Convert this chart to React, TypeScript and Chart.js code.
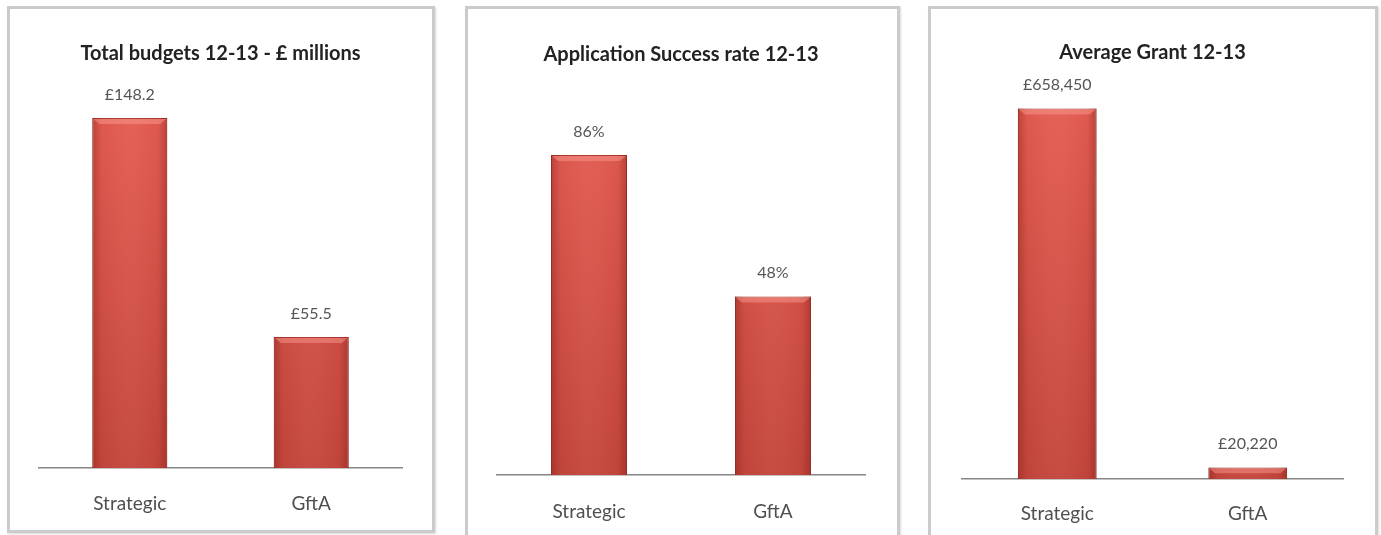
import React, { useEffect, useRef } from "react";
import { Chart, registerables } from "chart.js";

Chart.register(...registerables);

// ---------- DATA ----------
const categories = ["Strategic", "GftA"];
const budgetValues = [148.2, 55.5]; // £ millions
const successRateValues = [86, 48]; // %
const averageGrantValues = [658450, 20220]; // £
const chartTitles = [
  "Total budgets 12-13 - £ millions",
  "Application Success rate 12-13",
  "Average Grant 12-13",
];
const axisMaxima = [160, 100, 700000];

const formatMillions = (v: number) => "£" + v.toFixed(1);
const formatPercent = (v: number) => v + "%";
const formatPounds = (v: number) => "£" + v.toLocaleString("en-GB");

// ---------- LAYOUT / STYLE ----------
const FONT = "Lato, 'Open Sans', sans-serif";

type PanelCfg = {
  title: string;
  values: number[];
  max: number;
  format: (v: number) => string;
  left: number;
  top: number;
  width: number; // inner width
  height: number; // inner height
  padLeft: number;
  padRight: number;
  titlePadTop: number;
  titlePadBottom: number;
  tickPad: number;
  xAxisHeight: number;
};

const panels: PanelCfg[] = [
  {
    title: chartTitles[0],
    values: budgetValues,
    max: axisMaxima[0],
    format: formatMillions,
    left: 7,
    top: 6,
    width: 422,
    height: 521,
    padLeft: 29,
    padRight: 30,
    titlePadTop: 33,
    titlePadBottom: 24,
    tickPad: 24,
    xAxisHeight: 62,
  },
  {
    title: chartTitles[1],
    values: successRateValues,
    max: axisMaxima[1],
    format: formatPercent,
    left: 465,
    top: 6,
    width: 429,
    height: 530,
    padLeft: 29,
    padRight: 32,
    titlePadTop: 34,
    titlePadBottom: 36,
    tickPad: 25,
    xAxisHeight: 64,
  },
  {
    title: chartTitles[2],
    values: averageGrantValues,
    max: axisMaxima[2],
    format: formatPounds,
    left: 928,
    top: 6,
    width: 444,
    height: 530,
    padLeft: 31,
    padRight: 32,
    titlePadTop: 32,
    titlePadBottom: 20,
    tickPad: 23,
    xAxisHeight: 60,
  },
];

function makeValueLabelPlugin(format: (v: number) => string) {
  return {
    id: "valueLabels",
    afterDatasetsDraw(chart: any) {
      const ctx = chart.ctx;
      chart.data.datasets.forEach((ds: any, di: number) => {
        const meta = chart.getDatasetMeta(di);
        meta.data.forEach((el: any, i: number) => {
          const { x, y } = el.getProps(["x", "y"], true);
          ctx.save();
          ctx.font = `16px ${FONT}`;
          ctx.fillStyle = "#555555";
          ctx.textAlign = "center";
          ctx.textBaseline = "middle";
          ctx.fillText(format(ds.data[i]), x, y - 23.5);
          ctx.restore();
        });
      });
    },
  };
}

const barShadePlugin = {
  id: "barShade",
  afterDatasetsDraw(chart: any) {
    const ctx = chart.ctx;
    chart.data.datasets.forEach((_ds: any, di: number) => {
      const meta = chart.getDatasetMeta(di);
      meta.data.forEach((el: any) => {
        const { x, y, base, width } = el.getProps(["x", "y", "base", "width"], true);
        const l = x - width / 2;
        const r = x + width / 2;
        const h = base - y;
        ctx.save();
        // side shading
        const g = ctx.createLinearGradient(l, 0, r, 0);
        g.addColorStop(0, "rgba(110,20,15,0.35)");
        g.addColorStop(0.12, "rgba(110,20,15,0.05)");
        g.addColorStop(0.5, "rgba(255,255,255,0.03)");
        g.addColorStop(0.88, "rgba(110,20,15,0.05)");
        g.addColorStop(1, "rgba(110,20,15,0.35)");
        ctx.fillStyle = g;
        ctx.fillRect(l, y, width, h);
        // top bevel
        const bv = Math.min(6, h / 2);
        ctx.beginPath();
        ctx.moveTo(l + 1, y + 1);
        ctx.lineTo(r - 1, y + 1);
        ctx.lineTo(r - 1 - bv, y + bv);
        ctx.lineTo(l + 1 + bv, y + bv);
        ctx.closePath();
        ctx.fillStyle = "rgba(255,160,150,0.45)";
        ctx.fill();
        ctx.restore();
      });
    });
  },
};

function Panel({ cfg }: { cfg: PanelCfg }) {
  const ref = useRef<HTMLCanvasElement | null>(null);
  useEffect(() => {
    if (!ref.current) return;
    const chart = new Chart(ref.current, {
      type: "bar",
      data: {
        labels: categories,
        datasets: [
          {
            data: cfg.values,
            backgroundColor: (c: any) => {
              const area = c.chart.chartArea;
              if (!area) return "#d9534a";
              const g = c.chart.ctx.createLinearGradient(0, area.top, 0, area.bottom);
              g.addColorStop(0, "#e65e53");
              g.addColorStop(1, "#c4463c");
              return g;
            },
            borderColor: "#a9382f",
            borderWidth: 1,
            categoryPercentage: 1,
            barPercentage: 0.413,
          },
        ],
      },
      options: {
        responsive: false,
        animation: false,
        devicePixelRatio: 1,
        layout: {
          padding: { left: cfg.padLeft, right: cfg.padRight, top: 0, bottom: 0 },
        },
        plugins: {
          legend: { display: false },
          tooltip: { enabled: false },
          title: {
            display: true,
            text: cfg.title,
            color: "#222222",
            font: { family: FONT, size: 20, weight: "bold" },
            padding: { top: cfg.titlePadTop, bottom: cfg.titlePadBottom },
          },
        },
        scales: {
          x: {
            grid: { display: false, drawTicks: false },
            border: { display: true, color: "#868686", width: 1.5 },
            ticks: {
              color: "#4f4f4f",
              font: { family: FONT, size: 19 },
              padding: cfg.tickPad,
            },
            afterFit: (s: any) => {
              s.height = cfg.xAxisHeight;
            },
          },
          y: {
            display: false,
            min: 0,
            max: cfg.max,
          },
        },
      },
      plugins: [barShadePlugin, makeValueLabelPlugin(cfg.format)],
    } as any);
    return () => chart.destroy();
  }, [cfg]);

  return (
    <div
      style={{
        position: "absolute",
        left: cfg.left,
        top: cfg.top,
        border: "3px solid #cbcbcb",
        boxShadow: "1px 1px 2px rgba(0,0,0,0.15)",
        background: "#ffffff",
        width: cfg.width,
        height: cfg.height,
      }}
    >
      <canvas
        ref={ref}
        width={cfg.width}
        height={cfg.height}
        style={{ display: "block", width: cfg.width, height: cfg.height }}
      />
    </div>
  );
}

export default function App() {
  return (
    <div>
      {panels.map((p, i) => (
        <Panel key={i} cfg={p} />
      ))}
    </div>
  );
}
